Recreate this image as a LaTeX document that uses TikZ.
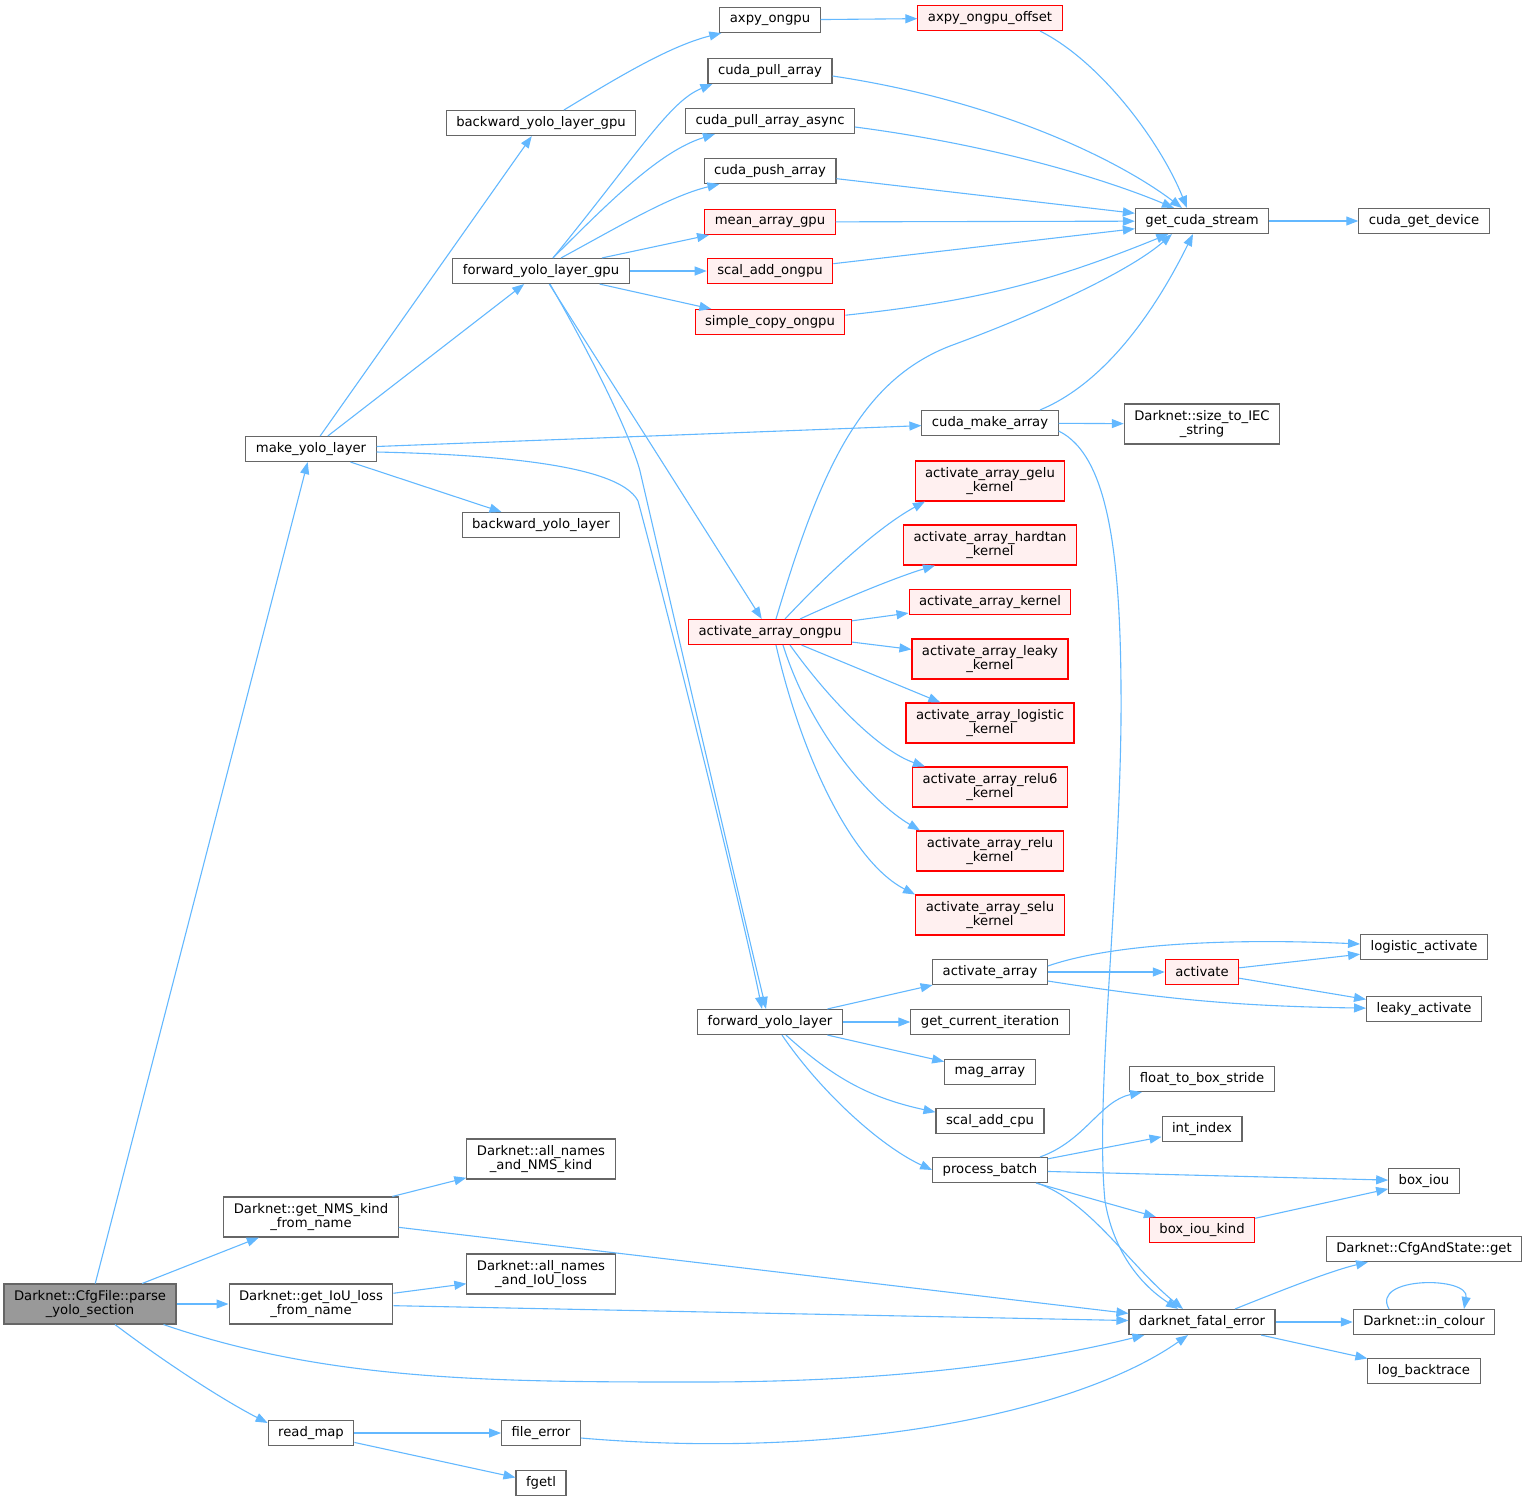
\documentclass[tikz,border=0pt]{standalone}
\usepackage{fontspec}
\setmainfont{DejaVu Sans}
\usepackage{tikz}
\usetikzlibrary{arrows.meta}
\definecolor{edgeblue}{HTML}{63B8FF}
\definecolor{boxgray}{HTML}{666666}
\definecolor{rootgray}{HTML}{999999}
\definecolor{hotfill}{HTML}{FFF0F0}

\begin{document}
\begin{tikzpicture}[x=1pt,y=-1pt,
  every node/.style={font=\fontsize{13.2}{14.6}\selectfont},
  fn/.style={draw=boxgray,fill=white,text=black,line width=1.1pt,inner xsep=10pt,inner ysep=0pt,minimum height=25pt,align=center},
  two/.style={minimum height=40pt},
  hot/.style={fn,draw=red,fill=hotfill},
  rootfn/.style={fn,two,fill=rootgray},
  call/.style={-{Triangle[length=12pt,width=9pt]},color=edgeblue,line width=1.1pt}]

	\useasboundingbox (0,0) rectangle (1527,1500);

	\node[rootfn] (root) at (90,1304) {Darknet::CfgFile::parse\\\_yolo\_section};
	\node[fn] (mkl) at (311,449) {make\_yolo\_layer};
	\node[fn] (bgpu) at (541,123) {backward\_yolo\_layer\_gpu};
	\node[fn] (fgpu) at (541,271) {forward\_yolo\_layer\_gpu};
	\node[fn] (bl) at (541,525) {backward\_yolo\_layer};
	\node[fn,two] (nms) at (311,1217) {Darknet::get\_NMS\_kind\\\_from\_name};
	\node[fn,two] (iou) at (311,1304) {Darknet::get\_IoU\_loss\\\_from\_name};
	\node[fn] (rmap) at (311,1433) {read\_map};
	\node[fn,two] (alnms) at (541,1159) {Darknet::all\_names\\\_and\_NMS\_kind};
	\node[fn,two] (aliou) at (541,1274) {Darknet::all\_names\\\_and\_IoU\_loss};
	\node[fn] (ferr) at (541,1433) {file\_error};
	\node[fn] (fgetl) at (541,1483) {fgetl};

	\node[fn] (axpy) at (770,20) {axpy\_ongpu};
	\node[fn] (pull) at (770,71) {cuda\_pull\_array};
	\node[fn] (pulla) at (770,121) {cuda\_pull\_array\_async};
	\node[fn] (push) at (770,171) {cuda\_push\_array};
	\node[hot] (mean) at (770,222) {mean\_array\_gpu};
	\node[hot] (scalg) at (770,271) {scal\_add\_ongpu};
	\node[hot] (scopy) at (770,322) {simple\_copy\_ongpu};
	\node[hot] (aao) at (770,632) {activate\_array\_ongpu};
	\node[fn] (fyl) at (770,1022) {forward\_yolo\_layer};

	\node[hot] (axpyo) at (990,18) {axpy\_ongpu\_offset};
	\node[fn] (cma) at (990,423) {cuda\_make\_array};
	\node[hot,two] (kgelu) at (990,481) {activate\_array\_gelu\\\_kernel};
	\node[hot,two] (khard) at (990,545) {activate\_array\_hardtan\\\_kernel};
	\node[hot] (kern) at (990,602) {activate\_array\_kernel};
	\node[hot,two] (kleak) at (990,659) {activate\_array\_leaky\\\_kernel};
	\node[hot,two] (klog) at (990,723) {activate\_array\_logistic\\\_kernel};
	\node[hot,two] (krelusix) at (990,787) {activate\_array\_relu6\\\_kernel};
	\node[hot,two] (krelu) at (990,851) {activate\_array\_relu\\\_kernel};
	\node[hot,two] (kselu) at (990,915) {activate\_array\_selu\\\_kernel};
	\node[fn] (aa) at (990,972) {activate\_array};
	\node[fn] (gci) at (990,1022) {get\_current\_iteration};
	\node[fn] (mag) at (990,1072) {mag\_array};
	\node[fn] (scalc) at (990,1121) {scal\_add\_cpu};
	\node[fn] (pb) at (990,1170) {process\_batch};

	\node[fn] (gcs) at (1202,221) {get\_cuda\_stream};
	\node[fn,two] (iec) at (1202,424) {Darknet::size\_to\_IEC\\\_string};
	\node[hot] (act) at (1202,972) {activate};
	\node[fn] (ftb) at (1202,1079) {float\_to\_box\_stride};
	\node[fn] (idx) at (1202,1129) {int\_index};
	\node[hot] (bik) at (1202,1230) {box\_iou\_kind};
	\node[fn] (dfe) at (1202,1322) {darknet\_fatal\_error};

	\node[fn] (gdev) at (1424,221) {cuda\_get\_device};
	\node[fn] (lact) at (1424,947) {logistic\_activate};
	\node[fn] (kact) at (1424,1009) {leaky\_activate};
	\node[fn] (biou) at (1424,1181) {box\_iou};
	\node[fn] (cfg) at (1424,1249) {Darknet::CfgAndState::get};
	\node[fn] (inc) at (1424,1322) {Darknet::in\_colour};
	\node[fn] (lbt) at (1424,1371) {log\_backtrace};

	\path[call] (root) edge (mkl)
	                   edge (nms)
	                   edge (iou)
	            (mkl) edge (bgpu)
	                  edge (fgpu)
	                  edge (bl)
	                  edge (cma)
	            (fgpu) edge (mean)
	                   edge (scalg)
	                   edge (scopy)
	                   edge (aao)
	            (axpy) edge (axpyo)
	            (push) edge (gcs)
	            (mean) edge (gcs)
	            (scalg) edge (gcs)
	            (scopy) edge[bend right=8] (gcs)
	            (gcs) edge (gdev)
	            (cma) edge (iec)
	            (aao) edge (kern)
	                  edge (kleak)
	                  edge (klog)
	            (fyl) edge (aa)
	                  edge (gci)
	                  edge (mag)
	                  edge[bend right=15] (scalc)
	            (aa) edge (act)
	                 edge[bend right=4] (kact)
	            (act) edge (lact)
	                  edge (kact)
	            (pb) edge (idx)
	                 edge (biou)
	                 edge (bik)
	            (bik) edge (biou)
	            (nms) edge (alnms)
	                  edge (dfe)
	            (iou) edge (aliou)
	                  edge (dfe)
	            (rmap) edge (ferr)
	                   edge (fgetl)
	            (dfe) edge (inc)
	                  edge (lbt);

	\draw[call] ([xshift=25pt]root.south) .. controls (170,1366) and (225,1401) .. ([yshift=-3pt]rmap.north west);
	\draw[call] ([xshift=-13pt]root.south east) .. controls (330,1382) and (500,1382) .. (700,1382) .. controls (900,1382) and (1040,1361) .. ([xshift=16pt]dfe.south west);
	\draw[call] ([yshift=-3pt]mkl.east) .. controls (560,456) and (625,476) .. (638,501) .. controls (665,601) and (740,901) .. ([xshift=-8pt]fyl.north);
	\draw[call] ([xshift=23pt]bgpu.north) .. controls (620,76) and (670,46) .. ([xshift=2pt]axpy.south west);
	\draw[call] ([xshift=12pt]fgpu.north) .. controls (640,151) and (670,101) .. ([xshift=5pt]pull.south west);
	\draw[call] ([xshift=12pt]fgpu.north) .. controls (610,201) and (660,151) .. ([xshift=30pt]pulla.south west);
	\draw[call] ([xshift=20pt]fgpu.north) .. controls (620,226) and (670,196) .. ([xshift=16pt]push.south west);
	\draw[call] ([xshift=9pt]fgpu.south) .. controls (600,371) and (632,441) .. (640,471) .. controls (670,601) and (740,901) .. ([xshift=-4pt]fyl.north);
	\draw[call] ([xshift=50pt]axpyo.south) .. controls (1100,61) and (1160,141) .. ([xshift=-15pt]gcs.north);
	\draw[call] ([yshift=-5pt]pull.east) .. controls (1000,101) and (1120,161) .. ([xshift=-20pt]gcs.north);
	\draw[call] ([yshift=-6pt]pulla.east) .. controls (1000,146) and (1110,181) .. ([xshift=-28pt]gcs.north);
	\draw[call] ([xshift=6pt]aao.north) .. controls (820,471) and (860,381) .. (950,346) .. controls (1040,313) and (1130,271) .. ([xshift=-30pt]gcs.south);
	\draw[call] ([xshift=50pt]cma.north) .. controls (1110,381) and (1160,301) .. ([xshift=-9pt]gcs.south);
	\draw[call] ([yshift=-8pt]cma.east) .. controls (1110,456) and (1122,561) .. (1121,721) .. controls (1119,901) and (1095,1101) .. (1105,1201) .. controls (1115,1261) and (1150,1291) .. ([xshift=-24pt]dfe.north);
	\draw[call] ([xshift=15pt]aao.north) .. controls (830,571) and (880,526) .. ([xshift=-65pt]kgelu.south);
	\draw[call] ([xshift=30pt]aao.north) .. controls (850,596) and (900,576) .. ([xshift=-55pt]khard.south);
	\draw[call] ([xshift=20pt]aao.south) .. controls (830,701) and (880,751) .. ([xshift=-65pt]krelusix.north);
	\draw[call] ([xshift=13pt]aao.south) .. controls (810,731) and (870,801) .. ([xshift=-70pt]krelu.north);
	\draw[call] ([xshift=6pt]aao.south) .. controls (800,751) and (850,861) .. ([xshift=-75pt]kselu.north);
	\draw[call] ([xshift=12pt]fyl.south) .. controls (820,1091) and (880,1146) .. (pb.west);
	\draw[call] ([yshift=6pt]aa.east) .. controls (1120,941) and (1250,939) .. ([yshift=3pt]lact.west);
	\draw[call] ([xshift=50pt]pb.north) .. controls (1085,1141) and (1100,1101) .. ([xshift=-60pt]ftb.south);
	\draw[call] ([xshift=47pt]pb.south) .. controls (1090,1201) and (1130,1266) .. ([xshift=-19pt]dfe.north);
	\draw[call] ([yshift=-5pt]ferr.east) .. controls (850,1461) and (1080,1411) .. ([xshift=-14pt]dfe.south);
	\draw[call] ([xshift=33pt]dfe.north) .. controls (1280,1291) and (1330,1271) .. ([xshift=-56pt]cfg.south);
	\draw[call] ([xshift=-35pt]inc.north) .. controls (1370,1276) and (1470,1276) .. ([xshift=40pt]inc.north);
\end{tikzpicture}
\end{document}
